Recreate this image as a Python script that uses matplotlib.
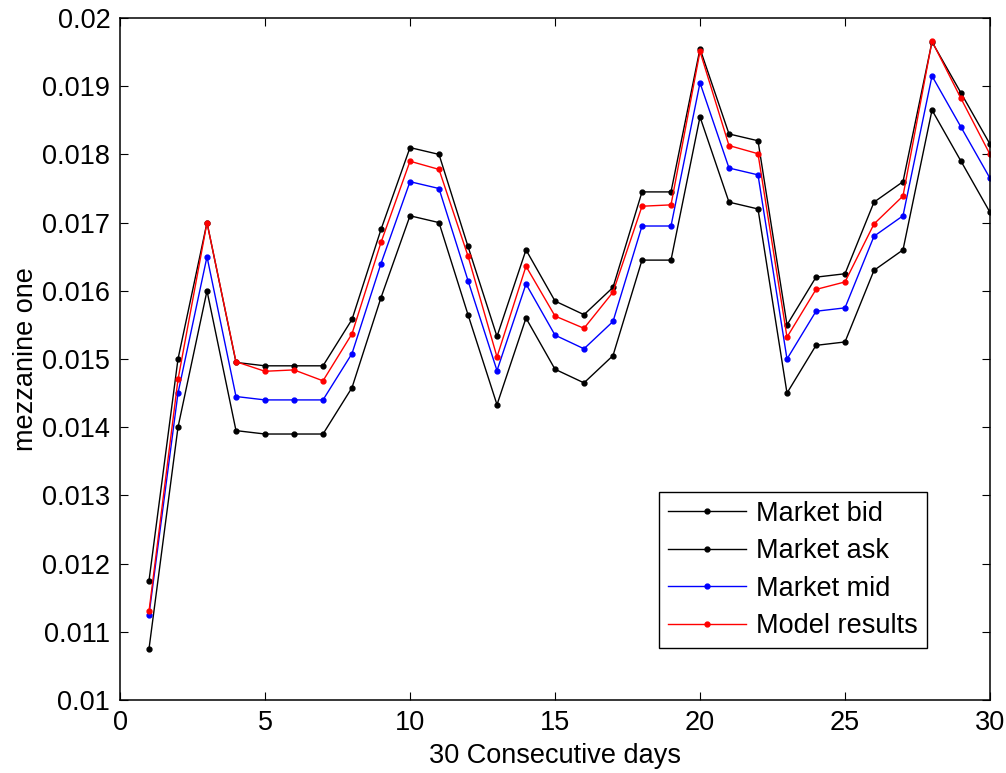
import numpy as np
import matplotlib
matplotlib.use("Agg")
import matplotlib.pyplot as plt

plt.rcParams["font.family"] = ["Liberation Sans", "DejaVu Sans"]

days = np.arange(1, 31)

market_ask = [0.01175, 0.0150, 0.0170, 0.01495, 0.0149, 0.0149, 0.0149, 0.01558,
              0.0169, 0.0181, 0.0180, 0.01665, 0.01533, 0.0166, 0.01585, 0.01565,
              0.01605, 0.01745, 0.01745, 0.01955, 0.0183, 0.0182, 0.0155, 0.0162,
              0.01625, 0.0173, 0.0176, 0.01965, 0.0189, 0.01815]

market_bid = [0.01075, 0.0140, 0.0160, 0.01395, 0.0139, 0.0139, 0.0139, 0.01458,
              0.0159, 0.0171, 0.0170, 0.01565, 0.01433, 0.0156, 0.01485, 0.01465,
              0.01505, 0.01645, 0.01645, 0.01855, 0.0173, 0.0172, 0.0145, 0.0152,
              0.01525, 0.0163, 0.0166, 0.01865, 0.0179, 0.01715]

market_mid = [0.01125, 0.0145, 0.0165, 0.01445, 0.0144, 0.0144, 0.0144, 0.01508,
              0.0164, 0.0176, 0.0175, 0.01615, 0.01483, 0.0161, 0.01535, 0.01515,
              0.01555, 0.01695, 0.01695, 0.01905, 0.0178, 0.0177, 0.0150, 0.0157,
              0.01575, 0.0168, 0.0171, 0.01915, 0.0184, 0.01765]

model_results = [0.0113, 0.0147, 0.0170, 0.01496, 0.01482, 0.01484, 0.01468, 0.01537,
                 0.01671, 0.0179, 0.01778, 0.01651, 0.01503, 0.01636, 0.01563, 0.01545,
                 0.01598, 0.01724, 0.01726, 0.01951, 0.01813, 0.01801, 0.01532, 0.01602,
                 0.01613, 0.01698, 0.01739, 0.01966, 0.01882, 0.018]

W, H = 1006, 773
fs = 19.5
fig = plt.figure(figsize=(W / 100, H / 100), dpi=100)
ax = fig.add_axes([120 / W, 1 - 700 / H, 870 / W, 682 / H])

style = dict(marker="o", markersize=3.5, linewidth=1.0)
ax.plot(days, market_bid, color="black", label="Market bid", **style)
ax.plot(days, market_ask, color="black", label="Market ask", **style)
ax.plot(days, market_mid, color="blue", label="Market mid", **style)
ax.plot(days, model_results, color="red", label="Model results", **style)

ax.set_xlim(0, 30)
ax.set_ylim(0.01, 0.02)
ax.set_xticks(np.arange(0, 31, 5))
ax.set_yticks(np.arange(0.010, 0.0201, 0.001))
ax.set_yticklabels(["0.01", "0.011", "0.012", "0.013", "0.014", "0.015",
                    "0.016", "0.017", "0.018", "0.019", "0.02"])
ax.tick_params(direction="in", length=6, width=0.8, top=True, right=True,
               labelsize=fs, pad=7)
for s in ax.spines.values():
    s.set_linewidth(1.1)

ax.set_xlabel("30 Consecutive days", fontsize=fs, labelpad=5)
ax.set_ylabel("mezzanine one", fontsize=fs, labelpad=2)

leg = ax.legend(loc="upper left", bbox_to_anchor=((659 - 120) / 870, (700 - 492) / 682),
                borderaxespad=0, fontsize=fs, frameon=True, fancybox=False,
                edgecolor="black", framealpha=1, handlelength=2.9,
                handletextpad=0.35, labelspacing=0.42, borderpad=0.33)
leg.get_frame().set_linewidth(1.0)

fig.savefig("out.png", dpi=100)
